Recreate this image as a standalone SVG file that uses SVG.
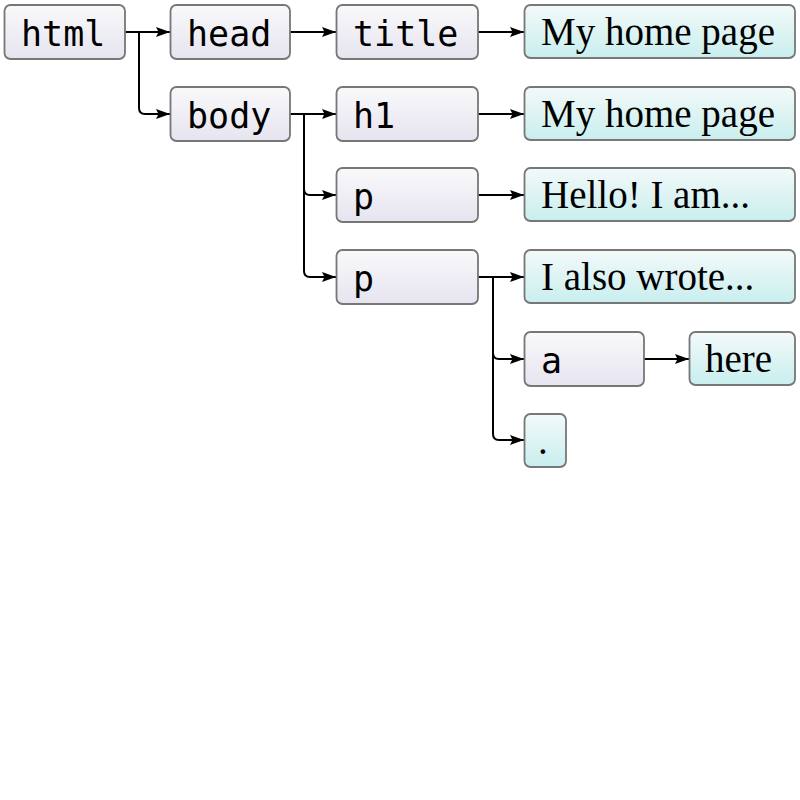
<svg xmlns="http://www.w3.org/2000/svg" width="800" height="800" viewBox="0 0 800 800">
<defs>
<linearGradient id="gGrey" x1="0" y1="0" x2="0" y2="1">
<stop offset="0" stop-color="#f9f9fb"/>
<stop offset="1" stop-color="#e6e4ef"/>
</linearGradient>
<linearGradient id="gTeal" x1="0" y1="0" x2="0" y2="1">
<stop offset="0" stop-color="#f3f9f9"/>
<stop offset="1" stop-color="#c9eeee"/>
</linearGradient>
<marker id="arr" viewBox="0 0 14 11" refX="14" refY="5.5" markerWidth="14" markerHeight="11" markerUnits="userSpaceOnUse" orient="auto">
<path d="M0,0.5 L14,5.5 L0,10.5 L2.5,5.5 Z" fill="#000"/>
</marker>
<style>
rect.el{fill:url(#gGrey);stroke:#777;stroke-width:1.8}
rect.tx{fill:url(#gTeal);stroke:#777;stroke-width:1.8}
text.m{font-family:"DejaVu Sans Mono",monospace;font-size:35px;fill:#000}
text.s{font-family:"Liberation Serif","Times New Roman",serif;font-size:39px;fill:#000}
#connectors path{fill:none;stroke:#000;stroke-width:2;marker-end:url(#arr)}
</style>
</defs>
<rect width="800" height="800" fill="#fff"/>
<g id="connectors">
<path d="M125,32 H170"/>
<path d="M139,32 V108 Q139,114 145,114 H170"/>
<path d="M290,32 H336"/>
<path d="M478,32 H524"/>
<path d="M290,114 H336"/>
<path d="M304,114 V189 Q304,195 310,195 H336"/>
<path d="M304,189 V271 Q304,277 310,277 H336"/>
<path d="M478,114 H524"/>
<path d="M478,195 H524"/>
<path d="M478,277 H524"/>
<path d="M493,277 V353 Q493,359 499,359 H524"/>
<path d="M493,353 V434 Q493,440 499,440 H524"/>
<path d="M644,359 H689"/>
</g>
<g id="n-html"><rect class="el" x="4.5" y="5" width="120.5" height="54" rx="6"/><text class="m" x="21" y="46">html</text></g>
<g id="n-head"><rect class="el" x="170.5" y="5" width="119.5" height="54" rx="6"/><text class="m" x="187" y="46">head</text></g>
<g id="n-title"><rect class="el" x="336.5" y="5" width="141.5" height="54" rx="6"/><text class="m" x="353" y="46">title</text></g>
<g id="n-title-text"><rect class="tx" x="524.5" y="5" width="270.5" height="53" rx="6"/><text class="s" x="541" y="45">My home page</text></g>
<g id="n-body"><rect class="el" x="170.5" y="87" width="119.5" height="54" rx="6"/><text class="m" x="187" y="128">body</text></g>
<g id="n-h1"><rect class="el" x="336.5" y="87" width="141.5" height="54" rx="6"/><text class="m" x="353" y="128">h1</text></g>
<g id="n-h1-text"><rect class="tx" x="524.5" y="87" width="270.5" height="53" rx="6"/><text class="s" x="541" y="127">My home page</text></g>
<g id="n-p1"><rect class="el" x="336.5" y="168" width="141.5" height="54" rx="6"/><text class="m" x="353" y="209">p</text></g>
<g id="n-p1-text"><rect class="tx" x="524.5" y="168" width="270.5" height="53" rx="6"/><text class="s" x="541" y="208">Hello! I am...</text></g>
<g id="n-p2"><rect class="el" x="336.5" y="250" width="141.5" height="54" rx="6"/><text class="m" x="353" y="291">p</text></g>
<g id="n-p2-text"><rect class="tx" x="524.5" y="250" width="270.5" height="53" rx="6"/><text class="s" x="541" y="290">I also wrote...</text></g>
<g id="n-a"><rect class="el" x="524.5" y="332" width="119.5" height="54" rx="6"/><text class="m" x="541" y="373">a</text></g>
<g id="n-a-text"><rect class="tx" x="689.5" y="332" width="105.5" height="53" rx="6"/><text class="s" x="705" y="372">here</text></g>
<g id="n-dot"><rect class="tx" x="524.5" y="414" width="41.5" height="53" rx="6"/><text class="s" x="538" y="454">.</text></g>
</svg>
